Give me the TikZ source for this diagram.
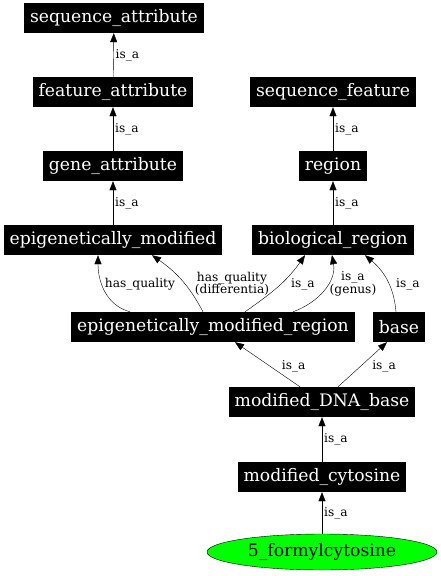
\documentclass[tikz,border=0pt]{standalone}
\usepackage{fontspec}
\setmainfont{DejaVu Serif}
\usetikzlibrary{arrows.meta}
\usetikzlibrary{shapes.geometric}

\begin{document}
\begin{tikzpicture}[x = 1pt, y = -1pt,
    box/.style = {fill = black, text = white, font = \fontsize{17.2}{19}\selectfont, inner xsep = 6pt, minimum height = 30pt, inner ysep = 0pt},
    lbl/.style = {font = \fontsize{12.2}{12.5}\selectfont, inner sep = 2pt, align = center},
    arr/.style = {-{Triangle[length = 9pt, width = 7pt]}, thin}]
        \useasboundingbox (0,0) rectangle (441,576);
        \node[box] (seqattr) at (114,18) {sequence\_attribute};
        \node[box] (featattr) at (113,92) {feature\_attribute};
        \node[box] (geneattr) at (113,166) {gene\_attribute};
        \node[box] (epimod) at (113,240) {epigenetically\_modified};
        \node[box] (seqfeat) at (333,92) {sequence\_feature};
        \node[box] (region) at (333,166) {region};
        \node[box] (bioreg) at (333,240) {biological\_region};
        \node[box] (epireg) at (213,327) {epigenetically\_modified\_region};
        \node[box] (base) at (399,327) {base};
        \node[box] (dnabase) at (322,402) {modified\_DNA\_base};
        \node[box] (cytosine) at (322,477) {modified\_cytosine};
        \node[ellipse, draw, fill = green, minimum width = 230pt, minimum height = 36pt, inner sep = 0pt, font = \fontsize{17.2}{19}\selectfont] (formyl) at (322,552) {5\_formylcytosine};
        \draw[arr] (featattr) -- (seqattr) node[lbl, midway, right] {is\_a};
        \draw[arr] (geneattr) -- (featattr) node[lbl, midway, right] {is\_a};
        \draw[arr] (epimod) -- (geneattr) node[lbl, midway, right] {is\_a};
        \draw[arr] (region) -- (seqfeat) node[lbl, midway, right] {is\_a};
        \draw[arr] (bioreg) -- (region) node[lbl, midway, right] {is\_a};
        \draw[arr] ([xshift = -83pt]epireg.north) to[out = 165, in = -90] ([xshift = -15pt]epimod.south);
        \draw[arr] ([xshift = -10pt]epireg.north) to[out = 118, in = -35] ([xshift = 39pt]epimod.south);
        \draw[arr] ([xshift = 32pt]epireg.north) to[out = 35, in = -125] ([xshift = -28pt]bioreg.south);
        \draw[arr] ([xshift = 80pt]epireg.north) to[out = 20, in = -80] ([xshift = -1pt]bioreg.south);
        \draw[arr] ([xshift = -3pt]base.north) to[out = 95, in = -40] ([xshift = 32pt]bioreg.south);
        \node[lbl] (hq) at (140,284) {has\_quality};
        \node[lbl] (hqd) at (232,284) {has\_quality\\(differentia)};
        \node[lbl] (isa1) at (303,284) {is\_a};
        \node[lbl] (isa2) at (353,284) {is\_a\\(genus)};
        \node[lbl] (isa3) at (408,284) {is\_a};
        \draw[arr] ([xshift = -22pt]dnabase.north) -- ([xshift = 22pt]epireg.south) node[lbl, pos = 0.45, right, xshift = 9pt] {is\_a};
        \draw[arr] ([xshift = 16pt]dnabase.north) -- ([xshift = -12pt]base.south) node[lbl, pos = 0.45, right, xshift = 10pt] {is\_a};
        \draw[arr] (cytosine) -- (dnabase) node[lbl, midway, right] {is\_a};
        \draw[arr] (formyl) -- (cytosine) node[lbl, midway, right] {is\_a};
    \end{tikzpicture}
\end{document}
